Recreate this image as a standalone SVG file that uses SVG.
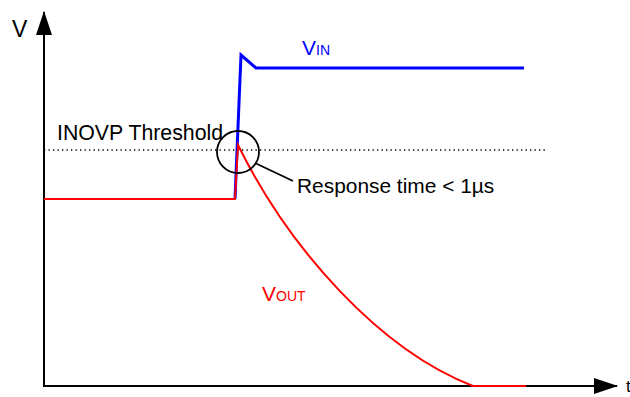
<svg xmlns="http://www.w3.org/2000/svg" width="630" height="397" viewBox="0 0 630 397">
<style>
.t{font-family:"Liberation Sans",Arial,sans-serif;}
.ax{stroke:#000;stroke-width:2;fill:none}
</style>
<defs>
<marker id="ah" markerWidth="24" markerHeight="16" refX="23" refY="8" orient="auto" markerUnits="userSpaceOnUse"><path d="M0,0 L24,8 L0,16 Z" fill="#000"/></marker>
</defs>
<g id="axes">
<line class="ax" x1="44" y1="386" x2="44" y2="12" marker-end="url(#ah)"/>
<line class="ax" x1="43" y1="386" x2="617" y2="386" marker-end="url(#ah)"/>
<text class="t" x="12" y="37" font-size="23">V</text>
<text class="t" x="626" y="392" font-size="17">t</text>
</g>
<g id="threshold">
<line x1="44" y1="150" x2="546" y2="150" stroke="#000" stroke-width="1.3" stroke-dasharray="1.3,3.2"/>
<text class="t" x="57" y="140" font-size="21.3">INOVP Threshold</text>
</g>
<g id="vin">
<polyline points="235,199 241,55 256,68 524,68" fill="none" stroke="#0000ff" stroke-width="3"/>
<text class="t" x="302" y="55" font-size="21" fill="#0000ff">V<tspan font-size="14">IN</tspan></text>
</g>
<g id="vout">
<path d="M44,199 L235,199 L238,145 C290,250 380,350 473,386 L526,386" fill="none" stroke="#ff0000" stroke-width="2"/>
<text class="t" x="262" y="301" font-size="21" fill="#ff0000">V<tspan font-size="14">OUT</tspan></text>
</g>
<g id="connectors">
<circle cx="238" cy="152" r="21" fill="none" stroke="#000" stroke-width="1.8"/>
<line x1="255" y1="163" x2="293" y2="181" stroke="#000" stroke-width="1.8"/>
</g>
<g id="response">
<text class="t" x="297" y="193" font-size="20.9">Response time &lt; 1µs</text>
</g>
</svg>
